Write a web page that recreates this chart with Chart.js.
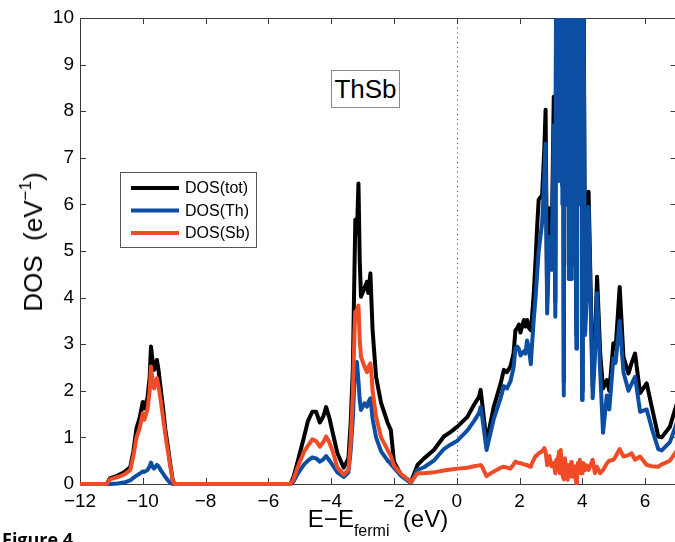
<!DOCTYPE html>
<html>
<head>
<meta charset="utf-8">
<script src="https://cdn.jsdelivr.net/npm/chart.js@4.4.1/dist/chart.umd.min.js"></script>
<style>
  html, body { margin:0; padding:0; background:#fff; overflow:hidden; }
  #wrap { position:relative; width:675px; height:542px; overflow:hidden; background:#fff; }
  #c { position:absolute; left:0; top:0; }
  .txt { position:absolute; font-family:"Liberation Sans", Arial, Helvetica, sans-serif; color:#000; white-space:nowrap; line-height:1; }
  #ylab { left:33px; top:242px; font-size:26px; transform:translate(-50%,-50%) rotate(-90deg); }
  #ylab sup { font-size:17px; vertical-align:0; position:relative; top:-11px; }
  #xlab { left:378px; top:507px; font-size:24px; transform:translateX(-50%); }
  #xlab sub { font-size:16px; vertical-align:0; position:relative; top:9px; }
  #title { left:331px; top:70px; width:67px; height:36px; border:1px solid #888; font-size:26px; text-align:center; line-height:36px; background:#fff; }
  #fig { left:2px; top:530px; font-family:"Open Sans", "Liberation Sans", sans-serif; font-weight:bold; font-size:18px; }
</style>
</head>
<body>
<div id="wrap">
  <canvas id="c" width="677" height="542"></canvas>
  <div class="txt" id="ylab">DOS&nbsp;&nbsp;(eV<sup>−1</sup>)</div>
  <div class="txt" id="xlab">E−E<sub>fermi</sub>&nbsp;&nbsp;(eV)</div>
  <div class="txt" id="title">ThSb</div>
  <div class="txt" id="fig">Figure 4</div>
</div>
<script>
// ---- data ----
const seriesLabels = ["DOS(tot)", "DOS(Th)", "DOS(Sb)"];
const xTicks = [-12, -10, -8, -6, -4, -2, 0, 2, 4, 6];
const yTicks = [0, 1, 2, 3, 4, 5, 6, 7, 8, 9, 10];

const energy = [
  -12, -11.15, -11.05, -10.8, -10.6, -10.4, -10.3, -10.2, -10.1, -10.0,
  -9.95, -9.85, -9.78, -9.74, -9.68, -9.64, -9.55, -9.5, -9.43, -9.35,
  -9.28, -9.2, -9.13, -9.05, -9.0,
  -5.3, -5.2, -5.06, -4.86, -4.74, -4.6, -4.48, -4.36, -4.25, -4.16,
  -4.05, -3.95, -3.8, -3.6, -3.45, -3.38, -3.31, -3.26, -3.23, -3.18,
  -3.13, -3.09, -3.05, -2.94, -2.86, -2.82, -2.75, -2.71, -2.68, -2.57,
  -2.41, -2.2, -2.1, -2.0, -1.78, -1.46, -1.25, -1.04, -0.73, -0.41,
  -0.19, 0.02, 0.34, 0.55, 0.71, 0.76, 0.8, 0.95, 1.18, 1.4,
  1.5, 1.6, 1.71, 1.81, 1.87, 1.93, 1.98, 2.03, 2.14, 2.19,
  2.24, 2.30, 2.36, 2.40, 2.45, 2.51, 2.56, 2.61, 2.72, 2.79,
  2.83, 2.88, 2.95, 3.02, 3.09, 3.14,
  3.17, 3.185, 3.20, 3.215, 3.23, 3.245, 3.26, 3.275, 3.29, 3.305,
  3.32, 3.335, 3.35, 3.365, 3.38, 3.41, 3.43, 3.445, 3.46, 3.475,
  3.49, 3.505, 3.52, 3.535, 3.55, 3.57, 3.59, 3.605, 3.62, 3.635,
  3.65, 3.665, 3.695, 3.71, 3.725, 3.74, 3.755, 3.77, 3.79, 3.81,
  3.83, 3.845, 3.86, 3.875, 3.89, 3.905, 3.92, 3.935, 3.95, 3.965,
  3.975, 3.99, 4.01, 4.03,
  4.09, 4.14, 4.20, 4.33, 4.40,
  4.47, 4.57, 4.66, 4.78, 4.86, 4.99, 5.06, 5.19, 5.31, 5.47,
  5.57, 5.68, 5.84, 6.05, 6.21, 6.42, 6.53, 6.79, 6.95, 7.0
];

const dosTot = [
  0, 0, 0.12, 0.18, 0.25, 0.36, 0.7, 1.2, 1.42, 1.76,
  1.62, 1.85, 2.3, 2.95, 2.6, 2.45, 2.66, 2.45, 2.05, 1.6,
  1.16, 0.8, 0.45, 0.1, 0,
  0, 0.15, 0.5, 1.02, 1.35, 1.55, 1.55, 1.32, 1.45, 1.65,
  1.4, 1.1, 0.66, 0.35, 0.55, 1.3, 2.45, 4.5, 5.67, 5.38,
  6.45, 4.8, 4.02, 4.2, 4.34, 4.1, 4.52, 3.8, 3.3, 2.3,
  1.74, 1.31, 1.16, 0.48, 0.2, 0.04, 0.41, 0.55, 0.73, 1.02,
  1.12, 1.23, 1.44, 1.7, 1.87, 2.02, 1.8, 0.9, 1.66, 2.16,
  2.45, 2.4, 2.52, 2.8, 3.3, 3.35, 3.42, 3.25, 3.52, 3.38,
  3.52, 3.35, 3.3, 3.6, 4.05, 4.8, 5.5, 6.1, 6.2, 7.2,
  8.03, 3.9, 5.92, 4.9, 8.31, 3.9,
  12.5, 7.4, 14.5, 8.4, 13.5, 6.9, 15.5, 8.4, 14.5, 7.4,
  13.5, 9.4, 15.5, 6.4, 14.5, 2.2, 13.5, 7.4, 15.5, 8.4,
  14.5, 6.4, 13.5, 9.4, 15.5, 4.7, 14.5, 8.4, 15.5, 7.4,
  14.5, 4.7, 9.5, 15.5, 7.4, 13.5, 8.4, 15.5, 6.4, 3.2,
  14.5, 7.4, 13.5, 8.4, 15.5, 6.4, 14.5, 8.4, 13.5, 7.4,
  14.5, 2.0, 13.5, 12.5,
  3.5, 4.3, 6.27, 2.1, 3.0,
  4.45, 2.8, 2.05, 2.23, 2.0, 3.02, 2.9, 4.23, 2.73, 2.37,
  2.6, 2.8, 1.95, 2.16, 1.66, 1.02, 1.0, 1.23, 1.59, 1.7
];

const dosTh = [
  0, 0, 0, 0.01, 0.03, 0.08, 0.13, 0.18, 0.22, 0.27,
  0.26, 0.3, 0.38, 0.46, 0.36, 0.33, 0.41, 0.38, 0.3, 0.22,
  0.15, 0.08, 0.03, 0, 0,
  0, 0.05, 0.23, 0.42, 0.5, 0.57, 0.55, 0.48, 0.53, 0.6,
  0.5, 0.4, 0.25, 0.15, 0.25, 0.7, 1.4, 2.2, 2.5, 2.62,
  2.2, 1.8, 1.59, 1.73, 1.66, 1.75, 1.84, 1.6, 1.4, 1.0,
  0.7, 0.5, 0.43, 0.35, 0.18, 0.02, 0.3, 0.36, 0.5, 0.75,
  0.85, 0.93, 1.15, 1.35, 1.52, 1.65, 1.5, 0.73, 1.4, 1.85,
  2.1, 2.05, 2.2, 2.5, 2.9, 2.95, 2.9, 2.76, 2.85, 2.8,
  3.08, 2.9, 2.57, 3.0, 3.5, 4.0, 4.5, 5.0, 5.6, 6.6,
  7.3, 3.66, 5.3, 4.6, 7.7, 3.59,
  12, 7, 14, 8, 13, 6.5, 15, 8, 14, 7,
  13, 9, 15, 6, 14, 1.9, 13, 7, 15, 8,
  14, 6, 13, 9, 15, 4.4, 14, 8, 15, 7,
  14, 4.4, 9.2, 15, 7, 13, 8, 15, 6, 2.9,
  14, 7, 13, 8, 15, 6, 14, 8, 13, 7,
  14, 1.8, 13, 12,
  3.2, 4.0, 5.95, 1.84, 2.7,
  4.1, 2.4, 1.1, 1.9, 1.6, 2.7, 2.6, 3.5, 2.4, 2.0,
  2.15, 2.3, 1.55, 1.6, 1.2, 0.75, 0.72, 0.9, 1.2, 1.3
];

const dosSb = [
  0, 0, 0.1, 0.15, 0.2, 0.3, 0.6, 1.0, 1.2, 1.52,
  1.38, 1.6, 2.0, 2.52, 2.2, 2.05, 2.27, 2.1, 1.8, 1.4,
  1.05, 0.7, 0.4, 0.08, 0,
  0, 0.1, 0.37, 0.7, 0.82, 0.96, 0.92, 0.8, 0.9, 1.02,
  0.88, 0.7, 0.35, 0.2, 0.3, 0.9, 1.9, 3.2, 3.7, 3.73,
  3.83, 3.1, 2.73, 2.52, 2.4, 2.5, 2.59, 2.3, 2.0, 1.45,
  1.0, 0.73, 0.6, 0.4, 0.22, 0.04, 0.23, 0.23, 0.25, 0.29,
  0.31, 0.33, 0.35, 0.38, 0.4, 0.41, 0.38, 0.17, 0.27, 0.35,
  0.37, 0.35, 0.33, 0.42, 0.48, 0.46, 0.45, 0.45, 0.42, 0.41,
  0.41, 0.38, 0.37, 0.45, 0.52, 0.6, 0.62, 0.66, 0.7, 0.77,
  0.7, 0.4, 0.6, 0.38, 0.45, 0.23,
  0.52, 0.35, 0.3, 0.45, 0.6, 0.4, 0.7, 0.35, 0.23, 0.5,
  0.73, 0.4, 0.23, 0.3, 0.15, 0.1, 0.35, 0.55, 0.3, 0.45,
  0.23, 0.35, 0.15, 0.09, 0.25, 0.38, 0.2, 0.42, 0.16, 0.3,
  0.47, 0.3, 0.2, 0.38, 0.15, 0.3, 0.38, 0.2, 0.1, 0.02,
  0.2, 0.38, 0.45, 0.3, 0.23, 0.4, 0.52, 0.35, 0.25, 0.3,
  0.23, 0.23, 0.4, 0.45,
  0.3, 0.4, 0.3, 0.52, 0.23,
  0.37, 0.23, 0.3, 0.44, 0.5, 0.52, 0.59, 0.75, 0.59, 0.62,
  0.66, 0.52, 0.59, 0.41, 0.38, 0.37, 0.42, 0.5, 0.66, 0.7
];

const colors = ["#000000", "#0b4ea2", "#ef4b26"];
const seriesValues = [dosTot, dosTh, dosSb];

const toPoints = (vals) => energy.map((e, i) => ({ x: e, y: vals[i] }));

const FONT = '"Liberation Sans", Arial, Helvetica, sans-serif';

const framePlugin = {
  id: 'frame',
  beforeDatasetsDraw(chart) {
    const { ctx, chartArea: a, scales } = chart;
    const xs = scales.x, ys = scales.y;
    ctx.save();
    ctx.strokeStyle = '#555';
    ctx.lineWidth = 1;
    ctx.setLineDash([1.2, 3.6]);
    const x0 = Math.round(xs.getPixelForValue(0)) + 0.5;
    ctx.beginPath(); ctx.moveTo(x0, a.top); ctx.lineTo(x0, a.bottom); ctx.stroke();
    ctx.setLineDash([]);
    ctx.strokeStyle = '#3a3a3a';
    ctx.lineWidth = 1;
    ctx.strokeRect(Math.round(a.left) + 0.5, Math.round(a.top) + 0.5,
                   Math.round(a.right - a.left), Math.round(a.bottom - a.top));
    const L = 6;
    ctx.beginPath();
    xTicks.forEach(v => {
      const px = Math.round(xs.getPixelForValue(v)) + 0.5;
      ctx.moveTo(px, a.bottom); ctx.lineTo(px, a.bottom - L);
      ctx.moveTo(px, a.top); ctx.lineTo(px, a.top + L);
    });
    yTicks.forEach(v => {
      const py = Math.round(ys.getPixelForValue(v)) + 0.5;
      ctx.moveTo(a.left, py); ctx.lineTo(a.left + L, py);
      ctx.moveTo(a.right, py); ctx.lineTo(a.right - L, py);
    });
    ctx.stroke();
    ctx.restore();
  }
};

const legendPlugin = {
  id: 'boxLegend',
  afterDatasetsDraw(chart) {
    const ctx = chart.ctx;
    ctx.save();
    ctx.fillStyle = '#fff';
    ctx.fillRect(120.5, 172.5, 136, 75);
    ctx.strokeStyle = '#555';
    ctx.lineWidth = 1;
    ctx.strokeRect(120.5, 172.5, 136, 75);
    chart.data.datasets.forEach((ds, i) => {
      const y = 188 + i * 22.5;
      ctx.strokeStyle = ds.borderColor;
      ctx.lineWidth = 4;
      ctx.beginPath(); ctx.moveTo(131, y); ctx.lineTo(179, y); ctx.stroke();
      ctx.fillStyle = '#000';
      ctx.font = '16px ' + FONT;
      ctx.textBaseline = 'middle';
      ctx.textAlign = 'left';
      ctx.fillText(ds.label, 185, y + 1);
    });
    ctx.restore();
  }
};

const fmt = (v) => (v < 0 ? '\u2212' + Math.abs(v) : String(v));

new Chart(document.getElementById('c'), {
  type: 'line',
  data: {
    datasets: seriesLabels.map((lab, i) => ({
      label: lab,
      data: toPoints(seriesValues[i]),
      borderColor: colors[i],
      backgroundColor: colors[i],
      borderWidth: 4,
      borderJoinStyle: 'round',
      borderCapStyle: 'round',
      pointRadius: 0,
      tension: 0,
      fill: false,
      order: 3 - i,
      clip: { left: 0, top: 0, right: 0, bottom: 5 }
    }))
  },
  options: {
    responsive: false,
    animation: false,
    devicePixelRatio: 1,
    layout: { padding: { left: 0, top: 18, right: 0.5, bottom: 0 } },
    plugins: { legend: { display: false }, tooltip: { enabled: false }, title: { display: false } },
    scales: {
      x: {
        type: 'linear', min: -12, max: 7,
        afterFit: (s) => { s.height = 58; },
        afterBuildTicks: (s) => { s.ticks = xTicks.map(v => ({ value: v })); },
        grid: { display: false, drawTicks: false },
        border: { display: false },
        ticks: { callback: fmt, color: '#000', font: { family: FONT, size: 19 }, padding: 6, maxRotation: 0, autoSkip: false }
      },
      y: {
        type: 'linear', min: 0, max: 10,
        afterFit: (s) => { s.width = 80; },
        afterBuildTicks: (s) => { s.ticks = yTicks.map(v => ({ value: v })); },
        grid: { display: false, drawTicks: false },
        border: { display: false },
        ticks: { callback: fmt, color: '#000', font: { family: FONT, size: 19 }, padding: 6, autoSkip: false }
      }
    }
  },
  plugins: [framePlugin, legendPlugin]
});
</script>
</body>
</html>
